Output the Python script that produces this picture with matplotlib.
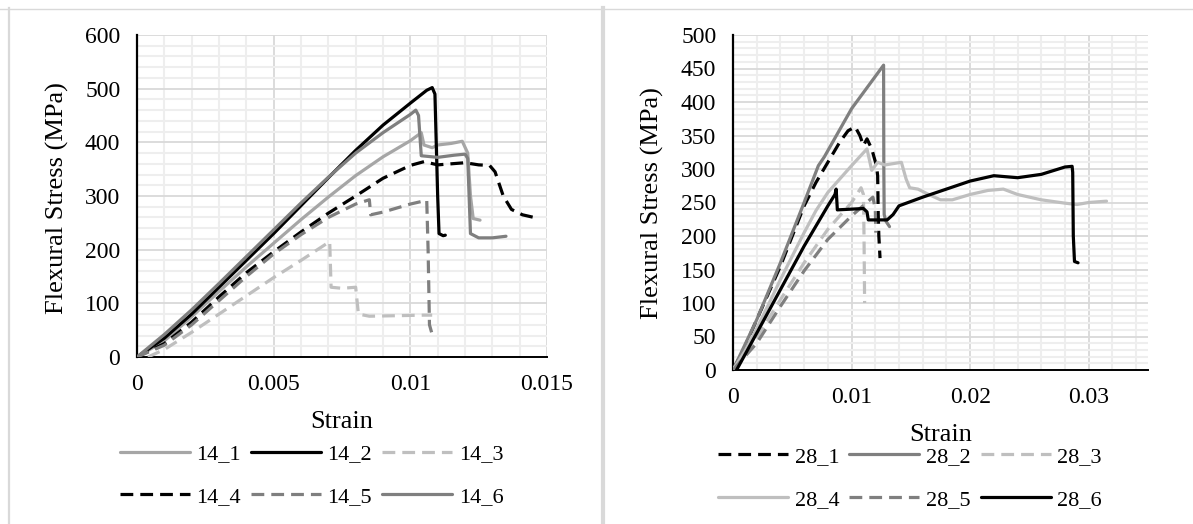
import matplotlib
matplotlib.use('Agg')
import matplotlib.pyplot as plt
import matplotlib.ticker as ticker
from matplotlib.lines import Line2D
import numpy as np

plt.rcParams['font.family'] = ['Liberation Serif', 'DejaVu Serif']

# ---- 14 day specimens (strain, stress MPa) ----
s14_1_x = [0, 0.001, 0.002, 0.003, 0.004, 0.005, 0.006, 0.007, 0.008, 0.009, 0.0100, 0.0104, 0.0105,
           0.0108, 0.0110, 0.0115, 0.0119, 0.0121, 0.0122, 0.0123, 0.01255]
s14_1_y = [0, 30, 75, 122, 168, 212, 256, 298, 338, 373, 403, 418, 395,
           390, 395, 398, 402, 380, 300, 258, 255]

s14_2_x = [0, 0.001, 0.002, 0.003, 0.004, 0.005, 0.006, 0.007, 0.008, 0.009, 0.010, 0.0106, 0.0108,
           0.0109, 0.0110, 0.01105, 0.0112, 0.01128]
s14_2_y = [0, 35, 80, 130, 180, 230, 282, 334, 385, 432, 473, 497, 502,
           490, 300, 230, 226, 227]

s14_3_x = [0.0004, 0.001, 0.002, 0.003, 0.004, 0.005, 0.006, 0.0069, 0.00705, 0.0071, 0.0075, 0.0080,
           0.0081, 0.0085, 0.0095, 0.0105, 0.0108]
s14_3_y = [0, 14, 46, 80, 114, 148, 180, 210, 215, 130, 128, 130,
           80, 76, 77, 78, 78]

s14_4_x = [0, 0.001, 0.002, 0.003, 0.004, 0.005, 0.006, 0.007, 0.008, 0.009, 0.0100, 0.0105, 0.011,
           0.0115, 0.012, 0.0125, 0.0129, 0.0131, 0.0134, 0.0137, 0.0141, 0.0147]
s14_4_y = [0, 25, 65, 112, 157, 196, 233, 268, 300, 333, 357, 364, 358,
           360, 362, 358, 357, 345, 300, 275, 265, 258]

s14_5_x = [0, 0.001, 0.002, 0.003, 0.004, 0.005, 0.006, 0.007, 0.008, 0.0085, 0.00855, 0.0090, 0.0100,
           0.0106, 0.01065, 0.0107, 0.0108]
s14_5_y = [0, 22, 60, 105, 150, 192, 228, 260, 285, 293, 265, 270, 285,
           292, 200, 60, 42]

s14_6_x = [0, 0.001, 0.002, 0.003, 0.004, 0.005, 0.006, 0.007, 0.008, 0.009, 0.0100, 0.0102, 0.0103,
           0.0104, 0.0110, 0.0116, 0.0120, 0.0121, 0.0122, 0.0125, 0.0130, 0.0135]
s14_6_y = [0, 42, 88, 137, 187, 237, 287, 335, 380, 418, 452, 460, 450,
           375, 372, 376, 378, 370, 230, 222, 222, 225]

# ---- 28 day specimens ----
s28_1_x = [0, 0.001, 0.002, 0.003, 0.004, 0.005, 0.006, 0.007, 0.008, 0.009, 0.0097, 0.0103, 0.0107,
           0.0110, 0.0113, 0.0117, 0.0121, 0.0122, 0.01225, 0.0123, 0.0124]
s28_1_y = [0, 35, 75, 115, 155, 200, 245, 280, 310, 340, 357, 363, 350,
           335, 345, 330, 305, 290, 230, 200, 167]

s28_2_x = [0, 0.002, 0.004, 0.006, 0.0072, 0.0077, 0.010, 0.0127, 0.01272, 0.01275, 0.0129, 0.0132]
s28_2_y = [0, 75, 160, 250, 305, 318, 390, 455, 300, 232, 222, 214]

s28_3_x = [0, 0.002, 0.004, 0.006, 0.008, 0.010, 0.0108, 0.0110, 0.01105, 0.0111]
s28_3_y = [0, 48, 105, 160, 210, 250, 272, 262, 200, 100]

s28_4_x = [0, 0.001, 0.002, 0.003, 0.004, 0.005, 0.006, 0.007, 0.008, 0.009, 0.010, 0.0113, 0.0117,
           0.0122, 0.0128, 0.0135, 0.0142, 0.0146, 0.0149, 0.0156, 0.0165, 0.0175, 0.0185, 0.020,
           0.0215, 0.0228, 0.024, 0.026, 0.028, 0.029, 0.030, 0.0315]
s28_4_y = [0, 28, 62, 98, 135, 170, 205, 238, 265, 285, 305, 330, 298,
           310, 306, 308, 310, 285, 272, 270, 262, 254, 254, 262,
           268, 270, 262, 254, 249, 247, 250, 252]

s28_5_x = [0, 0.002, 0.004, 0.006, 0.008, 0.010, 0.0118, 0.0120, 0.01205]
s28_5_y = [0, 40, 95, 148, 195, 230, 258, 240, 205]

s28_6_x = [0.0003, 0.002, 0.004, 0.006, 0.008, 0.0086, 0.0087, 0.0088, 0.011, 0.0113, 0.01141, 0.0125,
           0.0130, 0.0135, 0.014, 0.016, 0.018, 0.020, 0.022, 0.024, 0.026, 0.028, 0.0286, 0.02865,
           0.0287, 0.0288, 0.0291]
s28_6_y = [0, 55, 120, 185, 245, 262, 270, 239, 241, 236, 224, 224,
           224, 232, 245, 258, 270, 282, 290, 287, 292, 303, 304, 295,
           200, 162, 160]

DASH = (0, (4, 2.2))
LW = 2.3
BLACK = '#000000'
DARK = '#7f7f7f'
MID = '#a6a6a6'
LIGHT = '#bfbfbf'

series14 = [
    ('14_1', s14_1_x, s14_1_y, MID, '-'),
    ('14_2', s14_2_x, s14_2_y, BLACK, '-'),
    ('14_3', s14_3_x, s14_3_y, LIGHT, DASH),
    ('14_4', s14_4_x, s14_4_y, BLACK, DASH),
    ('14_5', s14_5_x, s14_5_y, DARK, DASH),
    ('14_6', s14_6_x, s14_6_y, DARK, '-'),
]
series28 = [
    ('28_1', s28_1_x, s28_1_y, BLACK, DASH),
    ('28_2', s28_2_x, s28_2_y, DARK, '-'),
    ('28_3', s28_3_x, s28_3_y, LIGHT, DASH),
    ('28_4', s28_4_x, s28_4_y, LIGHT, '-'),
    ('28_5', s28_5_x, s28_5_y, DARK, DASH),
    ('28_6', s28_6_x, s28_6_y, BLACK, '-'),
]

TICK_FS = 17
LABEL_FS = 19
LEG_FS = 16

fig = plt.figure(figsize=(11.93, 5.24), dpi=100)

# chart area borders (excel style)
fig.add_artist(Line2D([0, 1], [1 - 8.5 / 524, 1 - 8.5 / 524], color='#d9d9d9', lw=1))
fig.add_artist(Line2D([9 / 1193, 9 / 1193], [0, 1 - 8 / 524], color='#d9d9d9', lw=1.6))
fig.add_artist(Line2D([603 / 1193, 603 / 1193], [0, 1 - 8 / 524], color='#d9d9d9', lw=3))


def style_axes(ax, xmaj, xmin, ymaj, ymin, xlim, ylim):
    ax.set_xlim(*xlim)
    ax.set_ylim(*ylim)
    ax.xaxis.set_major_locator(ticker.MultipleLocator(xmaj))
    ax.xaxis.set_minor_locator(ticker.MultipleLocator(xmin))
    ax.yaxis.set_major_locator(ticker.MultipleLocator(ymaj))
    ax.yaxis.set_minor_locator(ticker.MultipleLocator(ymin))
    ax.xaxis.set_major_formatter(ticker.FuncFormatter(lambda v, p: '%g' % round(v, 6)))
    ax.grid(which='minor', color='#eeeeee', lw=1.5, zorder=0)
    ax.grid(which='major', color='#d9d9d9', lw=1.3, zorder=0)
    ax.set_axisbelow(True)
    ax.tick_params(which='both', length=0, labelsize=TICK_FS, pad=12)
    for s in ['top', 'right']:
        ax.spines[s].set_visible(False)
    ax.spines['left'].set_linewidth(1.6)
    ax.spines['bottom'].set_linewidth(1.4)


def add_legend(ax, center):
    h, l = ax.get_legend_handles_labels()
    # row-wise ordering like excel (matplotlib fills columns first)
    order = [0, 3, 1, 4, 2, 5]
    fig.legend([h[i] for i in order], [l[i] for i in order], loc='center',
               bbox_to_anchor=(center[0] / 1193, 1 - center[1] / 524), ncol=3, frameon=False,
               fontsize=LEG_FS, handlelength=3.15, handletextpad=0.3, columnspacing=0.45,
               labelspacing=1.0, borderpad=0)


ax1 = fig.add_axes([137 / 1193, (524 - 357) / 524, 410 / 1193, 322 / 524])
style_axes(ax1, 0.005, 0.001, 100, 20, (0, 0.015), (0, 600))
for name, x, y, c, ls in series14:
    ax1.plot(x, y, color=c, ls=ls, lw=LW, label=name, solid_capstyle='round', zorder=3)
ax1.set_xlabel('Strain', fontsize=LABEL_FS)
ax1.set_ylabel('Flexural Stress (MPa)', fontsize=LABEL_FS)
ax1.xaxis.set_label_coords(0.5, -0.168)
ax1.yaxis.set_label_coords(-0.166, 0.494)
add_legend(ax1, (311.5, 475.5))

ax2 = fig.add_axes([733 / 1193, (524 - 370) / 524, 415 / 1193, 335 / 524])
style_axes(ax2, 0.01, 0.002, 50, 10, (0, 0.035), (0, 500))
for name, x, y, c, ls in series28:
    ax2.plot(x, y, color=c, ls=ls, lw=LW, label=name, solid_capstyle='round', zorder=3)
ax2.set_xlabel('Strain', fontsize=LABEL_FS)
ax2.set_ylabel('Flexural Stress (MPa)', fontsize=LABEL_FS)
ax2.xaxis.set_label_coords(0.5, -0.16)
ax2.yaxis.set_label_coords(-0.166, 0.498)
add_legend(ax2, (910, 478))

fig.savefig('out.png', dpi=100)
